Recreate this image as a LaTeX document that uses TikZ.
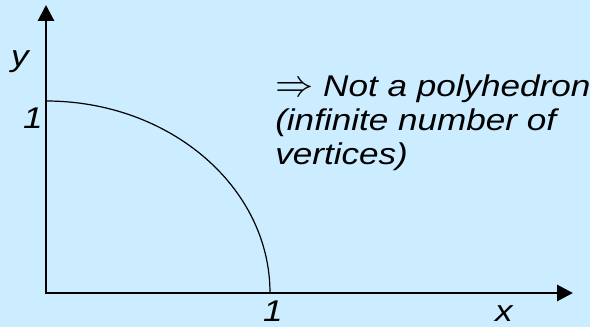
\documentclass[tikz,border=0pt]{standalone}
\usepackage{graphicx}
\usepackage{fontspec}
\setmainfont{Liberation Sans}[FakeStretch=1.17]
\usetikzlibrary{arrows.meta}
\definecolor{slideblue}{RGB}{204,236,255}
\tikzstyle{axes} = [
    line width=2.2pt,
    {Triangle[length=12pt,width=12pt]}-{Triangle[length=12pt,width=12pt]}
]
\tikzstyle{curve} = [line width=0.9pt]
\tikzstyle{axislabel} = [
    font=\fontsize{22.5}{25.5}\selectfont\itshape,
    inner sep=0pt
]
\tikzstyle{remark} = [axislabel, align=left, anchor=base west]
\newcommand{\impl}{\scalebox{1.38}{$\Rightarrow$}}

\begin{document}
\begin{tikzpicture}[x=0.75pt, y=0.75pt]

\fill [slideblue] (0,0) rectangle (590,327);
\useasboundingbox (0,0) rectangle (590,327);

\coordinate (origin) at (46,34);
\coordinate (ytip) at (46,322);
\coordinate (xtip) at (573,34);
\coordinate (yone) at (46,226);

\draw [axes] (ytip) -- (origin) -- (xtip);
\draw [curve] (yone) arc[start angle=90, end angle=0, x radius=224, y radius=192]
    coordinate (xone);

\node (ylab) [axislabel] at (20,265) {y};
\node (yonelab) [axislabel] at (33,209) {1};
\node (xonelab) [axislabel] at (273,16) {1};
\node (xlab) [axislabel] at (504,13) {x};

\node (note) [remark] at (275,162)
{\impl\ Not a polyhedron\\(infinite number of\\vertices)};

\end{tikzpicture}
\end{document}
